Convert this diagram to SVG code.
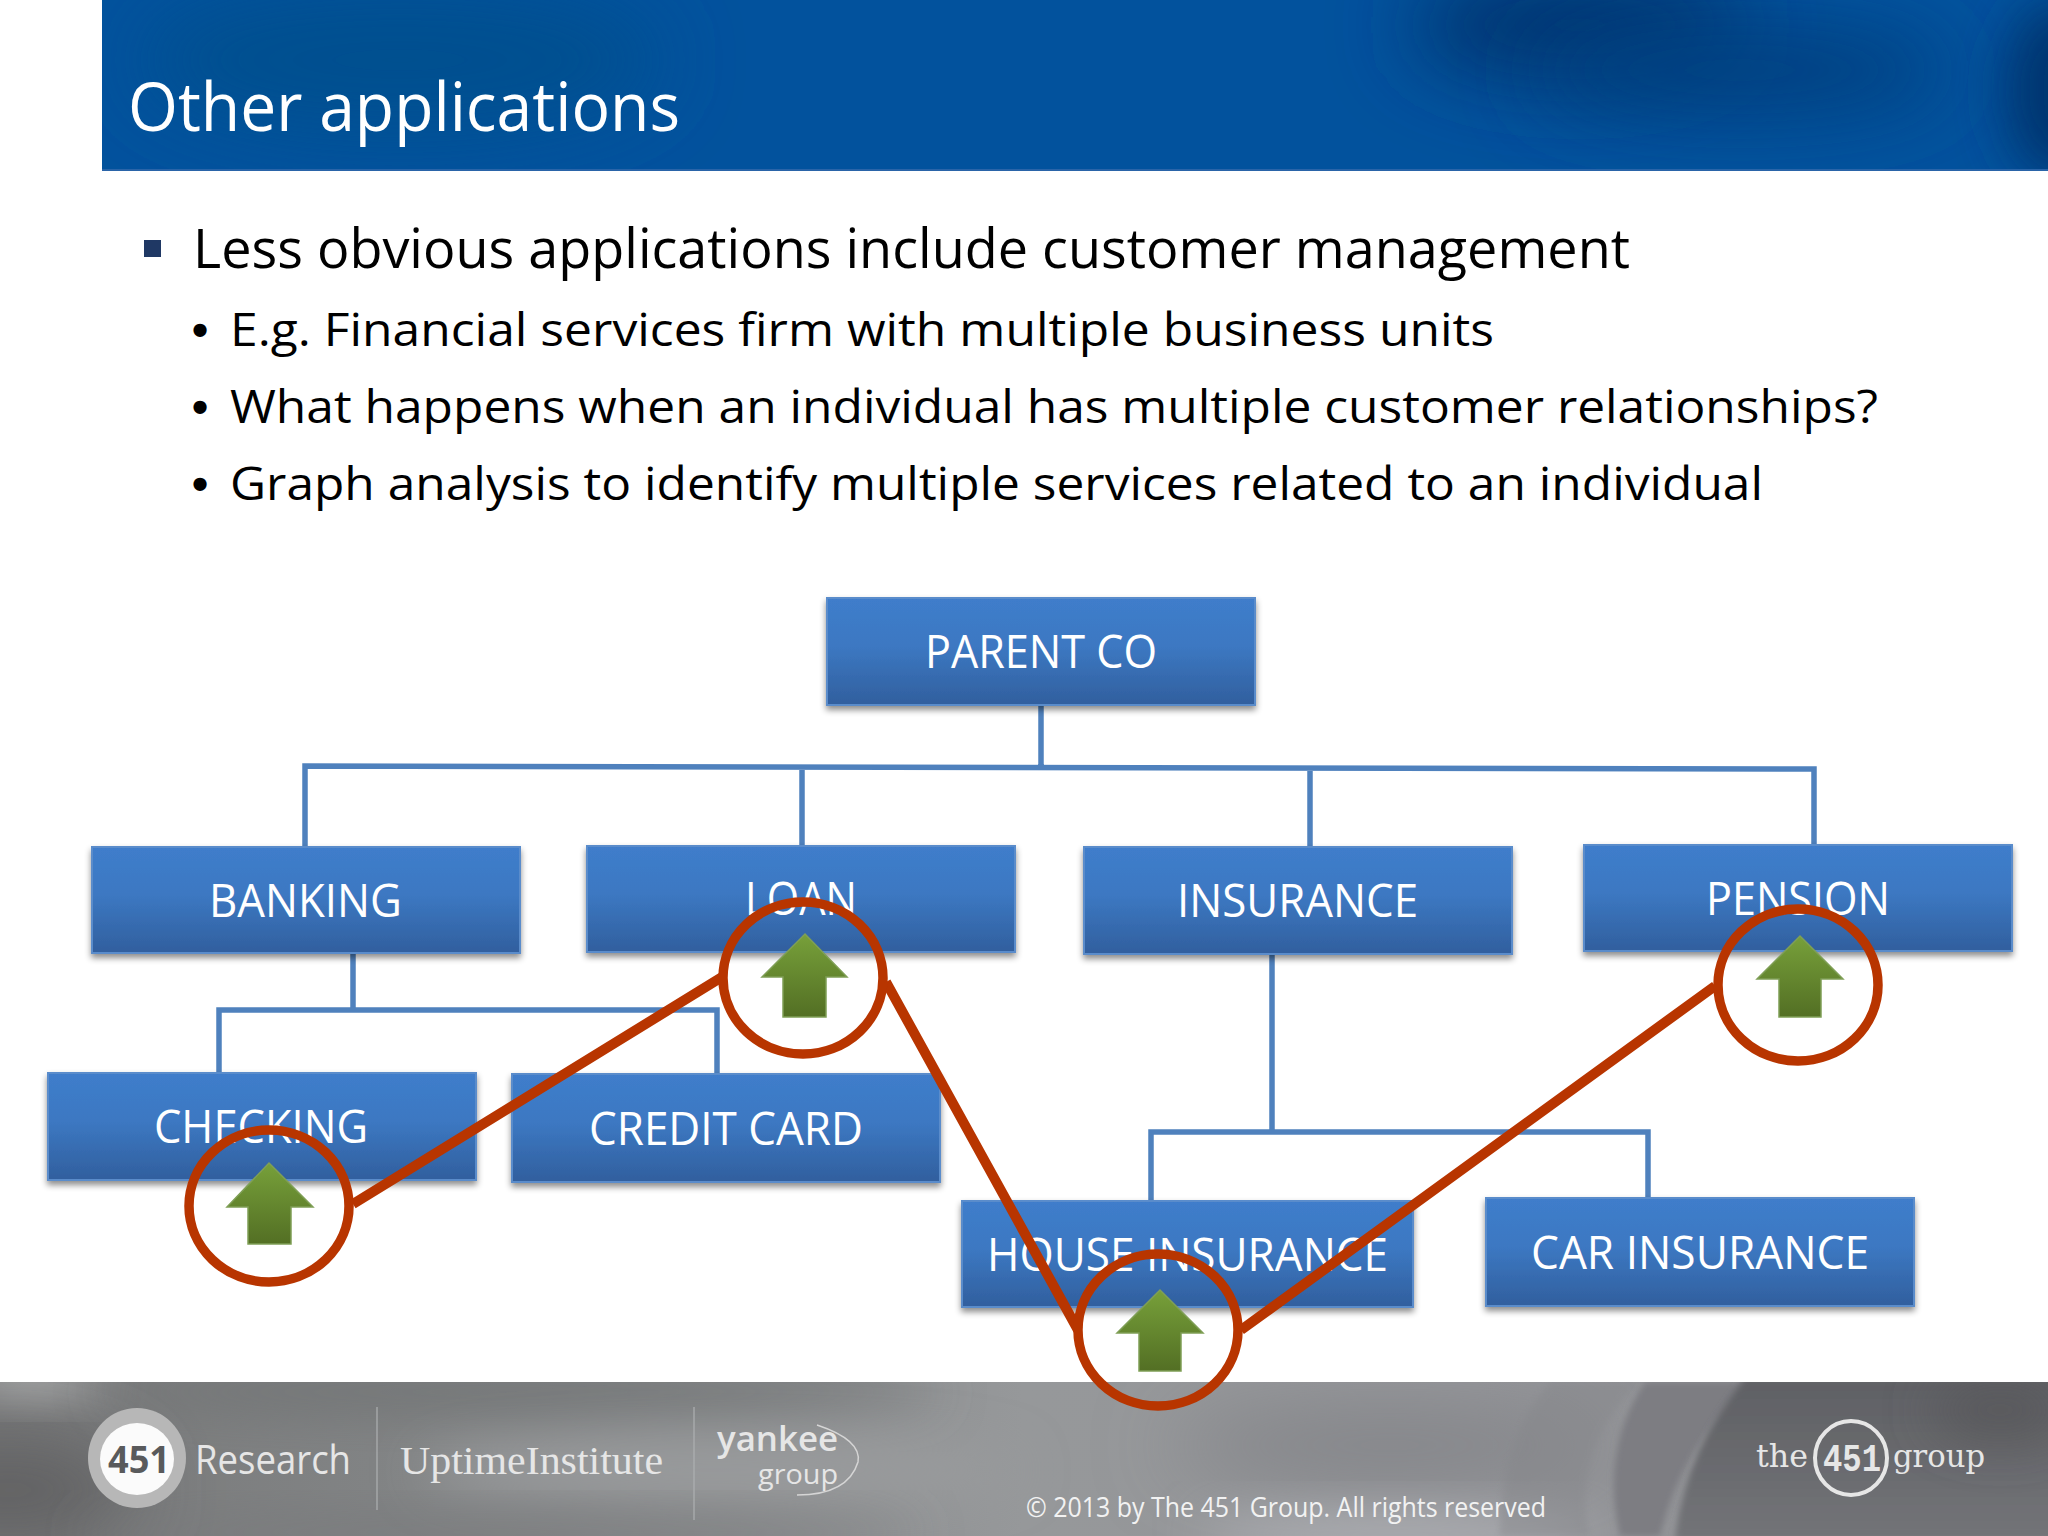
<svg xmlns="http://www.w3.org/2000/svg" width="2048" height="1536" viewBox="0 0 2048 1536">
<style>
text{font-family:"Open Sans","Noto Sans","Liberation Sans",sans-serif}
.box{fill:url(#boxG);stroke:#5a8ccb;stroke-width:2;filter:url(#sh)}
.lbl{fill:#fff;font-size:45px}
.con{fill:none;stroke:#4f81bd;stroke-width:5.5}
.red{fill:none;stroke:#b83500;stroke-width:9.5}
.arr{fill:url(#arrG);stroke:#7f9f56;stroke-width:1.5}
.body{fill:#000;font-size:46px}
.dot{fill:#000;font-size:46px;font-family:"Liberation Sans",sans-serif;font-weight:700}
.logo{fill:#e6e6e6}
.sep{stroke:#aeb0b2;stroke-width:1.5;opacity:.8}
</style>
<defs>
<linearGradient id="boxG" x1="0" y1="0" x2="0" y2="1"><stop offset="0" stop-color="#3f7dcb"/><stop offset=".45" stop-color="#3c78c2"/><stop offset="1" stop-color="#315f9e"/></linearGradient>
<linearGradient id="arrG" x1="0" y1="0" x2="0" y2="1"><stop offset="0" stop-color="#77a03a"/><stop offset="1" stop-color="#536f24"/></linearGradient>
<linearGradient id="footG" x1="0" y1="0" x2="1" y2="0"><stop offset="0" stop-color="#78797a"/><stop offset=".2" stop-color="#828485"/><stop offset=".5" stop-color="#96989a"/><stop offset=".72" stop-color="#95969a"/><stop offset="1" stop-color="#8c8d90"/></linearGradient>
<linearGradient id="darkG" x1="0" y1="0" x2="0" y2="1"><stop offset="0" stop-color="#5f6064"/><stop offset="1" stop-color="#737478"/></linearGradient>
<filter id="sh" x="-5%" y="-10%" width="110%" height="125%"><feDropShadow dx="0" dy="4" stdDeviation="3" flood-color="#000" flood-opacity=".45"/></filter>
<filter id="b40" x="-50%" y="-100%" width="200%" height="300%"><feGaussianBlur stdDeviation="40"/></filter>
<filter id="b25" x="-50%" y="-100%" width="200%" height="300%"><feGaussianBlur stdDeviation="25"/></filter>
<filter id="b3" x="-20%" y="-20%" width="140%" height="140%"><feGaussianBlur stdDeviation="3"/></filter>
<clipPath id="hc"><rect x="102" y="0" width="1946" height="171"/></clipPath>
<clipPath id="fc"><rect x="0" y="1382" width="2048" height="154"/></clipPath>
</defs>
<rect width="2048" height="1536" fill="#fff"/>
<g id="header" clip-path="url(#hc)">
<rect x="102" y="0" width="1946" height="171" fill="#02529d"/>
<ellipse cx="400" cy="60" rx="260" ry="70" fill="#024f8f" filter="url(#b40)"/>
<ellipse cx="1580" cy="25" rx="170" ry="55" fill="#02346f" filter="url(#b40)"/>
<ellipse cx="1740" cy="70" rx="210" ry="45" fill="#023f80" filter="url(#b40)"/>
<ellipse cx="2060" cy="90" rx="55" ry="90" fill="#02346f" filter="url(#b25)"/>
<rect x="102" y="169" width="1946" height="2" fill="#2a64a8"/>
</g>
<text id="title" x="128" y="131" font-size="67" fill="#fff" textLength="552" lengthAdjust="spacingAndGlyphs">Other applications</text>
<g id="bullets">
<rect x="144" y="240" width="17" height="17" fill="#1f3864"/>
<text x="193" y="268" font-size="54" fill="#000" textLength="1437" lengthAdjust="spacingAndGlyphs">Less obvious applications include customer management</text>
<text class="dot" x="192" y="346">•</text>
<text class="body" x="230" y="346" textLength="1264" lengthAdjust="spacingAndGlyphs">E.g. Financial services firm with multiple business units</text>
<text class="dot" x="192" y="423">•</text>
<text class="body" x="230" y="423" textLength="1648" lengthAdjust="spacingAndGlyphs">What happens when an individual has multiple customer relationships?</text>
<text class="dot" x="192" y="500">•</text>
<text class="body" x="230" y="500" textLength="1533" lengthAdjust="spacingAndGlyphs">Graph analysis to identify multiple services related to an individual</text>
</g>
<g id="footer" clip-path="url(#fc)">
<rect x="0" y="1382" width="2048" height="154" fill="url(#footG)"/>
<ellipse cx="30" cy="1380" rx="70" ry="14" fill="#c8c9c9" filter="url(#b25)"/>
<ellipse cx="10" cy="1490" rx="130" ry="50" fill="#5f5e60" filter="url(#b40)"/>
<ellipse cx="520" cy="1392" rx="420" ry="20" fill="#6f7273" filter="url(#b25)"/>
<ellipse cx="720" cy="1470" rx="300" ry="32" fill="#9a9b9d" filter="url(#b25)"/>
<ellipse cx="500" cy="1532" rx="420" ry="14" fill="#77787a" filter="url(#b25)"/>
<ellipse cx="1390" cy="1445" rx="220" ry="30" fill="#7f8084" filter="url(#b40)"/>
<ellipse cx="1400" cy="1535" rx="200" ry="18" fill="#b4b5ba" filter="url(#b25)"/>
<path d="M1550 1382H1640Q1570 1450 1590 1536H1500Q1500 1440 1550 1382Z" fill="#85868a" opacity=".4" filter="url(#b3)"/>
<path d="M1645 1382H1750Q1680 1450 1660 1536H1620Q1600 1450 1645 1382Z" fill="#7d7d82" filter="url(#b3)"/>
<path d="M1745 1378H2060V1540H1675Q1685 1450 1745 1378Z" fill="url(#darkG)" filter="url(#b3)"/>
<ellipse cx="2000" cy="1410" rx="70" ry="30" fill="#58585b" filter="url(#b25)"/>
<ellipse cx="137" cy="1458" rx="49" ry="50" fill="#b7b7b7"/>
<ellipse cx="137" cy="1459" rx="37" ry="36" fill="#fbfbfb"/>
<text x="108" y="1473" font-size="38" font-weight="700" fill="#595a5c" textLength="62" lengthAdjust="spacingAndGlyphs">451</text>
<text class="logo" x="195" y="1474" font-size="40" textLength="156" lengthAdjust="spacingAndGlyphs">Research</text>
<line class="sep" x1="377" y1="1407" x2="377" y2="1510"/>
<text class="logo" x="400" y="1474" font-size="40" style="font-family:'Liberation Serif',serif" textLength="263" lengthAdjust="spacingAndGlyphs">UptimeInstitute</text>
<line class="sep" x1="694" y1="1407" x2="694" y2="1520"/>
<text class="logo" x="717" y="1451" font-size="34" font-weight="600" textLength="121" lengthAdjust="spacingAndGlyphs">yankee</text>
<text class="logo" x="758" y="1484" font-size="28" textLength="80" lengthAdjust="spacingAndGlyphs">group</text>
<path d="M817 1425Q862 1440 858 1462Q848 1495 797 1495" fill="none" stroke="#d5d5d5" stroke-width="1.5"/>
<text class="logo" x="1756" y="1467" font-size="32" style="font-family:'DejaVu Serif',serif" textLength="52" lengthAdjust="spacingAndGlyphs">the</text>
<ellipse cx="1851" cy="1458" rx="36" ry="37" fill="none" stroke="#e6e6e6" stroke-width="4"/>
<text class="logo" x="1823" y="1471" font-size="38" style="font-family:'Liberation Mono',monospace" font-weight="700" textLength="58" lengthAdjust="spacingAndGlyphs">451</text>
<text class="logo" x="1893" y="1467" font-size="32" style="font-family:'DejaVu Serif',serif" textLength="92" lengthAdjust="spacingAndGlyphs">group</text>
<text x="1026" y="1517" font-size="27" fill="#f2f2f2" textLength="520" lengthAdjust="spacingAndGlyphs">© 2013 by The 451 Group. All rights reserved</text>
</g>
<g id="connectors">
<path class="con" d="M1041 705V767M305 846V766L1814 769V844M802 767V846M1310 768V847"/>
<path class="con" d="M353 953V1010M219 1072V1010H717V1073"/>
<path class="con" d="M1272 954V1132M1151 1201V1132H1648V1198"/>
</g>
<g id="parent-co"><rect class="box" x="827" y="598" width="428" height="107"/><text class="lbl" x="925" y="668" textLength="232" lengthAdjust="spacingAndGlyphs">PARENT CO</text></g>
<g id="banking"><rect class="box" x="92" y="847" width="428" height="106"/><text class="lbl" x="209" y="917" textLength="193" lengthAdjust="spacingAndGlyphs">BANKING</text></g>
<g id="loan"><rect class="box" x="587" y="846" width="428" height="106"/><text class="lbl" x="745" y="915" textLength="112" lengthAdjust="spacingAndGlyphs">LOAN</text></g>
<g id="insurance"><rect class="box" x="1084" y="847" width="428" height="107"/><text class="lbl" x="1177" y="917" textLength="241" lengthAdjust="spacingAndGlyphs">INSURANCE</text></g>
<g id="pension"><rect class="box" x="1584" y="845" width="428" height="106"/><text class="lbl" x="1706" y="915" textLength="184" lengthAdjust="spacingAndGlyphs">PENSION</text></g>
<g id="checking"><rect class="box" x="48" y="1073" width="428" height="107"/><text class="lbl" x="154" y="1143" textLength="214" lengthAdjust="spacingAndGlyphs">CHECKING</text></g>
<g id="credit-card"><rect class="box" x="512" y="1074" width="428" height="108"/><text class="lbl" x="589" y="1145" textLength="274" lengthAdjust="spacingAndGlyphs">CREDIT CARD</text></g>
<g id="house-insurance"><rect class="box" x="962" y="1201" width="451" height="106"/><text class="lbl" x="987" y="1271" textLength="401" lengthAdjust="spacingAndGlyphs">HOUSE INSURANCE</text></g>
<g id="car-insurance"><rect class="box" x="1486" y="1198" width="428" height="108"/><text class="lbl" x="1531" y="1269" textLength="338" lengthAdjust="spacingAndGlyphs">CAR INSURANCE</text></g>
<g id="arrows">
<path class="arr" d="M805 934L847 977H826V1017H783V977H762Z"/>
<path class="arr" d="M269 1163L313 1207H291V1244H248V1207H227Z"/>
<path class="arr" d="M1800 936L1843 979H1821V1017H1779V979H1757Z"/>
<path class="arr" d="M1160 1290L1203 1333H1181V1371H1139V1333H1117Z"/>
</g>
<g id="highlight">
<path class="red" d="M353 1204L722 977M886 982L1078 1330M1241 1330L1715 986" style="stroke-width:10"/>
<ellipse class="red" cx="803" cy="978" rx="80" ry="76"/>
<ellipse class="red" cx="269" cy="1206" rx="80" ry="76"/>
<ellipse class="red" cx="1798" cy="985" rx="80" ry="76"/>
<ellipse class="red" cx="1158" cy="1330" rx="80" ry="76"/>
</g>
</svg>
